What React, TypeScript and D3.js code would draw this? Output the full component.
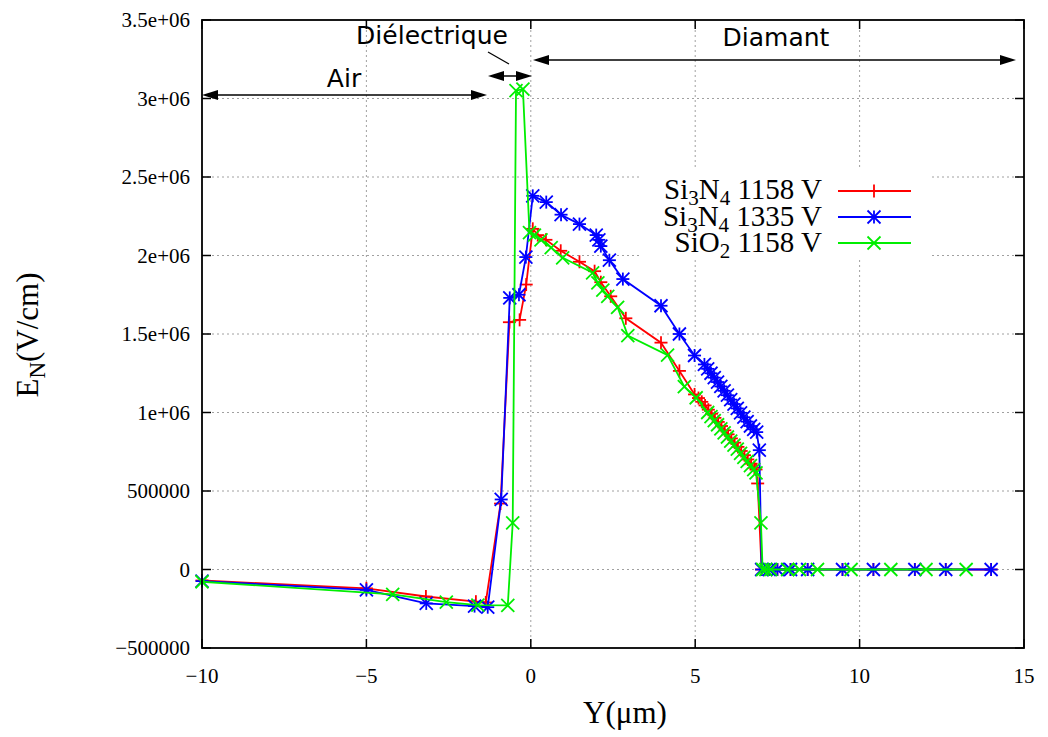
import React from "react";
import * as d3 from "d3";

const xTicks = [-10, -5, 0, 5, 10, 15];
const yTicks = [-500000, 0, 500000, 1000000, 1500000, 2000000, 2500000, 3000000, 3500000];
const yTickLabels = ["\u2212500000", "0", "500000", "1e+06", "1.5e+06", "2e+06", "2.5e+06", "3e+06", "3.5e+06"];
const xTickLabels = ["\u221210", "\u22125", "0", "5", "10", "15"];

const redSeries: [number, number][] = [
  [-10, -70000], [-5, -120000], [-3.19, -172000], [-1.67, -205000], [-1.37, -210000],
  [-0.92, 420000], [-0.65, 1575000], [-0.34, 1590000], [-0.14, 1815000], [0.06, 2170000],
  [0.21, 2130000], [0.46, 2100000], [0.91, 2030000], [1.48, 1960000], [1.94, 1900000],
  [2.13, 1830000], [2.43, 1740000], [2.89, 1600000], [3.96, 1445000], [4.52, 1265000],
  [4.98, 1115000], [5.1, 1092000], [5.2, 1068000], [5.3, 1045000], [5.4, 1018000],
  [5.5, 992000], [5.6, 966000], [5.7, 940000], [5.8, 914000], [5.9, 887000],
  [6.0, 861000], [6.1, 835000], [6.2, 808000], [6.3, 781000], [6.4, 755000],
  [6.5, 728000], [6.6, 701000], [6.7, 674000], [6.8, 648000], [6.85, 637000],
  [6.9, 548000], [7.02, 0], [7.25, 0], [7.5, 0], [7.9, 0], [8.42, 0], [9.48, 0],
  [10.42, 0], [11.68, 0], [12.62, 0], [14.0, 0],
];

const blueSeries: [number, number][] = [
  [-10, -74000], [-5, -130000], [-3.18, -216000], [-1.71, -233000], [-1.31, -240000],
  [-0.9, 446000], [-0.64, 1730000], [-0.36, 1750000], [-0.15, 1990000], [0.06, 2380000],
  [0.47, 2340000], [0.92, 2260000], [1.48, 2200000], [1.99, 2130000], [2.07, 2100000],
  [2.13, 2060000], [2.39, 1970000], [2.8, 1850000], [3.96, 1680000], [4.52, 1500000],
  [4.98, 1363000], [5.28, 1306000], [5.38, 1278000], [5.48, 1250000], [5.58, 1222000],
  [5.68, 1194000], [5.78, 1166000], [5.88, 1138000], [5.98, 1110000], [6.08, 1082000],
  [6.18, 1054000], [6.28, 1026000], [6.38, 998000], [6.48, 970000], [6.58, 942000],
  [6.68, 914000], [6.78, 893000], [6.87, 875000], [6.95, 760000], [7.02, 0],
  [7.25, 0], [7.5, 0], [7.9, 0], [8.42, 0], [9.48, 0], [10.42, 0], [11.68, 0],
  [12.62, 0], [14.0, 0],
];

const greenSeries: [number, number][] = [
  [-10, -78000], [-4.2, -159000], [-2.57, -208000], [-1.61, -227000], [-0.7, -229000],
  [-0.55, 297000], [-0.45, 3050000], [-0.24, 3060000], [-0.04, 2145000], [0.11, 2130000],
  [0.31, 2100000], [0.62, 2050000], [0.97, 1985000], [1.88, 1890000], [2.04, 1826000],
  [2.19, 1780000], [2.34, 1740000], [2.64, 1670000], [2.95, 1490000], [4.16, 1365000],
  [4.67, 1165000], [5.03, 1094000], [5.38, 1000000], [5.48, 974000], [5.58, 948000],
  [5.68, 922000], [5.78, 896000], [5.88, 870000], [5.98, 844000], [6.08, 818000],
  [6.18, 792000], [6.28, 766000], [6.38, 740000], [6.48, 714000], [6.58, 688000],
  [6.68, 662000], [6.78, 636000], [6.85, 616000], [7.0, 297000], [7.05, 0],
  [7.15, 0], [7.3, 0], [7.81, 0], [8.17, 0], [8.72, 0], [9.74, 0], [10.95, 0],
  [12.02, 0], [13.24, 0],
];

const W = 1048, H = 737;
const L = 202, R = 1024, T = 20, B = 648;
const serif = "'Liberation Serif', 'DejaVu Serif', serif";
const sans = "'DejaVu Sans', sans-serif";

const x = d3.scaleLinear().domain([-10, 15]).range([L, R]);
const y = d3.scaleLinear().domain([-500000, 3500000]).range([B, T]);
const line = d3.line<[number, number]>().x(d => x(d[0])).y(d => y(d[1]));

type Kind = "plus" | "star" | "cross";
const mk = (kind: Kind, cx: number, cy: number, color: string, key: any) => {
  const s = 6.5;
  const segs: [number, number, number, number][] = [];
  if (kind === "plus" || kind === "star") {
    segs.push([cx - s, cy, cx + s, cy], [cx, cy - s, cx, cy + s]);
  }
  if (kind === "cross" || kind === "star") {
    segs.push([cx - s, cy - s, cx + s, cy + s], [cx - s, cy + s, cx + s, cy - s]);
  }
  return (
    <g key={key} stroke={color} strokeWidth={1.8}>
      {segs.map((sg, i) => <line key={i} x1={sg[0]} y1={sg[1]} x2={sg[2]} y2={sg[3]} />)}
    </g>
  );
};

const series = [
  { data: redSeries, color: "#ff0000", kind: "plus" as Kind },
  { data: blueSeries, color: "#0000ff", kind: "star" as Kind },
  { data: greenSeries, color: "#00ee00", kind: "cross" as Kind },
];

const Arrow = ({ x1, x2, yy }: { x1: number; x2: number; yy: number }) => {
  const hl = 16, hw = 5;
  return (
    <g>
      <line x1={x1 + 4} y1={yy} x2={x2 - 4} y2={yy} stroke="#000" strokeWidth={1.5} />
      <path d={`M${x1},${yy} L${x1 + hl},${yy - hw} L${x1 + hl},${yy + hw} Z`} fill="#000" />
      <path d={`M${x2},${yy} L${x2 - hl},${yy - hw} L${x2 - hl},${yy + hw} Z`} fill="#000" />
    </g>
  );
};

export default function App() {
  return (
    <svg width={W} height={H} style={{ position: "absolute", left: 0, top: 0, background: "#fff" }}>
      <rect x={0} y={0} width={W} height={H} fill="#fff" />
      {/* grid */}
      <g stroke="#a0a0a0" strokeWidth={1} strokeDasharray="2,3">
        {xTicks.slice(1, -1).map(t => (
          <line key={"gx" + t} x1={x(t)} x2={x(t)} y1={T} y2={B} />
        ))}
        {yTicks.slice(1, -1).map(t => (
          <line key={"gy" + t} x1={L} x2={R} y1={y(t)} y2={y(t)} />
        ))}
      </g>
      {/* ticks */}
      <g stroke="#000" strokeWidth={1.5}>
        {xTicks.map(t => (
          <g key={"tx" + t}>
            <line x1={x(t)} x2={x(t)} y1={B} y2={B - 9} />
            <line x1={x(t)} x2={x(t)} y1={T} y2={T + 9} />
          </g>
        ))}
        {yTicks.map(t => (
          <g key={"ty" + t}>
            <line x1={L} x2={L + 9} y1={y(t)} y2={y(t)} />
            <line x1={R} x2={R - 9} y1={y(t)} y2={y(t)} />
          </g>
        ))}
      </g>
      {/* tick labels */}
      <g fontFamily={serif} fontSize={21} fill="#000">
        {yTicks.map((t, i) => (
          <text key={"ly" + t} x={L - 12} y={y(t)} textAnchor="end" dominantBaseline="central">
            {yTickLabels[i]}
          </text>
        ))}
        {xTicks.map((t, i) => (
          <text key={"lx" + t} x={x(t)} y={B + 35} textAnchor="middle">
            {xTickLabels[i]}
          </text>
        ))}
      </g>
      {/* axis titles */}
      <text x={625} y={723} textAnchor="middle" fontFamily={serif} fontSize={31}>Y(μm)</text>
      <text transform="translate(38,335) rotate(-90)" textAnchor="middle" fontFamily={serif} fontSize={31}>
        E<tspan dy={7} fontSize={23}>N</tspan><tspan dy={-7}>(V/cm)</tspan>
      </text>
      {/* series */}
      {series.map((s, si) => (
        <g key={"s" + si}>
          <path d={line(s.data) || ""} fill="none" stroke={s.color} strokeWidth={1.8} />
          {s.data.map((d, i) => mk(s.kind, x(d[0]), y(d[1]), s.color, i))}
        </g>
      ))}
      {/* annotations */}
      <g fontFamily={sans} fontSize={25} fill="#000">
        <text x={344} y={87} textAnchor="middle">Air</text>
        <text x={432} y={44} textAnchor="middle">Diélectrique</text>
        <text x={776} y={46} textAnchor="middle">Diamant</text>
      </g>
      <Arrow x1={x(-10)} x2={487} yy={95} />
      <Arrow x1={488} x2={532} yy={76} />
      <Arrow x1={533} x2={1016} yy={60} />
      <line x1={488} y1={52} x2={509} y2={64} stroke="#000" strokeWidth={1.3} />
      {/* legend */}
      <rect x={640} y={170} width={290} height={90} fill="#fff" />
      <g fontFamily={serif} fontSize={29} fill="#000">
        <text x={822} y={199} textAnchor="end">
          Si<tspan dy={6} fontSize={21}>3</tspan><tspan dy={-6}>N</tspan><tspan dy={6} fontSize={21}>4</tspan><tspan dy={-6}> 1158 V</tspan>
        </text>
        <text x={822} y={226} textAnchor="end">
          Si<tspan dy={6} fontSize={21}>3</tspan><tspan dy={-6}>N</tspan><tspan dy={6} fontSize={21}>4</tspan><tspan dy={-6}> 1335 V</tspan>
        </text>
        <text x={822} y={252} textAnchor="end">
          SiO<tspan dy={6} fontSize={21}>2</tspan><tspan dy={-6}> 1158 V</tspan>
        </text>
      </g>
      {series.map((s, i) => {
        const ly = 191 + i * 26;
        return (
          <g key={"lg" + i}>
            <line x1={838} x2={911} y1={ly} y2={ly} stroke={s.color} strokeWidth={1.8} />
            {mk(s.kind, 874, ly, s.color, "m")}
          </g>
        );
      })}
      {/* frame */}
      <rect x={L} y={T} width={R - L} height={B - T} fill="none" stroke="#000" strokeWidth={1.8} />
    </svg>
  );
}
